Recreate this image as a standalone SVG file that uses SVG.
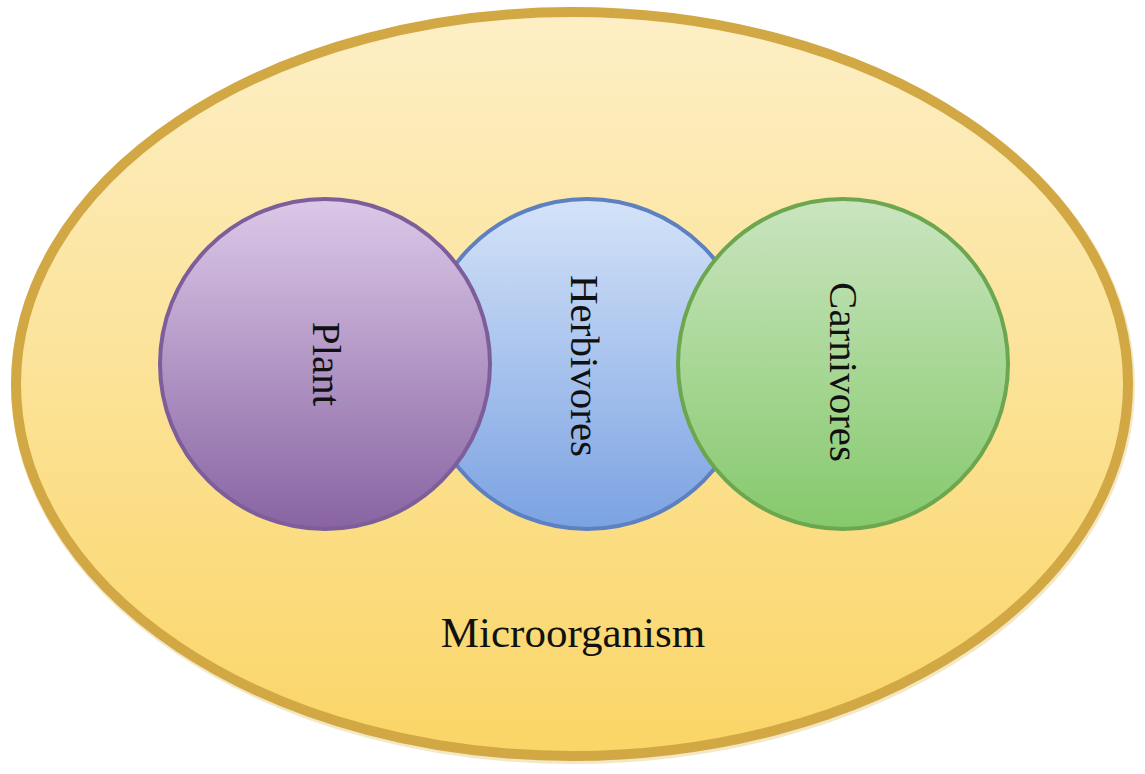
<svg xmlns="http://www.w3.org/2000/svg" width="1145" height="774" viewBox="0 0 1145 774">
  <defs>
    <linearGradient id="gOuter" x1="0" y1="0" x2="0" y2="1">
      <stop offset="0" stop-color="#FDEFC6"/>
      <stop offset="1" stop-color="#FAD566"/>
    </linearGradient>
    <linearGradient id="gPlant" x1="0" y1="0" x2="0" y2="1">
      <stop offset="0" stop-color="#DCC8E8"/>
      <stop offset="1" stop-color="#8864A2"/>
    </linearGradient>
    <linearGradient id="gHerb" x1="0" y1="0" x2="0" y2="1">
      <stop offset="0" stop-color="#D4E3F8"/>
      <stop offset="1" stop-color="#7BA2E2"/>
    </linearGradient>
    <linearGradient id="gCarn" x1="0" y1="0" x2="0" y2="1">
      <stop offset="0" stop-color="#CAE5C0"/>
      <stop offset="1" stop-color="#86C96C"/>
    </linearGradient>
    <style>
      .lbl { font-family: "Liberation Serif", "Times New Roman", serif; font-size: 41px; fill: #111; text-anchor: middle; }
      .ring { stroke-width: 4; }
    </style>
  </defs>

  <rect width="1145" height="774" fill="#FFFFFF"/>

  <!-- outer ecosystem ellipse -->
  <g id="microorganism">
    <ellipse cx="573" cy="386" rx="556" ry="372" fill="none" stroke="#E8D08A" stroke-width="12" opacity="0.5"/>
    <ellipse cx="572" cy="384" rx="556" ry="372" fill="url(#gOuter)" stroke="#D1A844" stroke-width="10"/>
    <text class="lbl" x="573" y="647" style="font-size:43px">Microorganism</text>
  </g>

  <!-- middle circle sits beneath its neighbours -->
  <g id="herbivores">
    <circle class="ring" cx="587" cy="364" r="165" fill="url(#gHerb)" stroke="#5C80C0"/>
    <text class="lbl" transform="translate(584 366) rotate(90)" y="13">Herbivores</text>
  </g>

  <g id="plant">
    <circle class="ring" cx="325" cy="364" r="165" fill="url(#gPlant)" stroke="#7D5E9B"/>
    <text class="lbl" transform="translate(326 364) rotate(90)" y="13">Plant</text>
  </g>

  <g id="carnivores">
    <circle class="ring" cx="843" cy="364" r="165" fill="url(#gCarn)" stroke="#6CA64E"/>
    <text class="lbl" transform="translate(843 372) rotate(90)" y="13">Carnivores</text>
  </g>

  <g id="connectors"/>
</svg>
